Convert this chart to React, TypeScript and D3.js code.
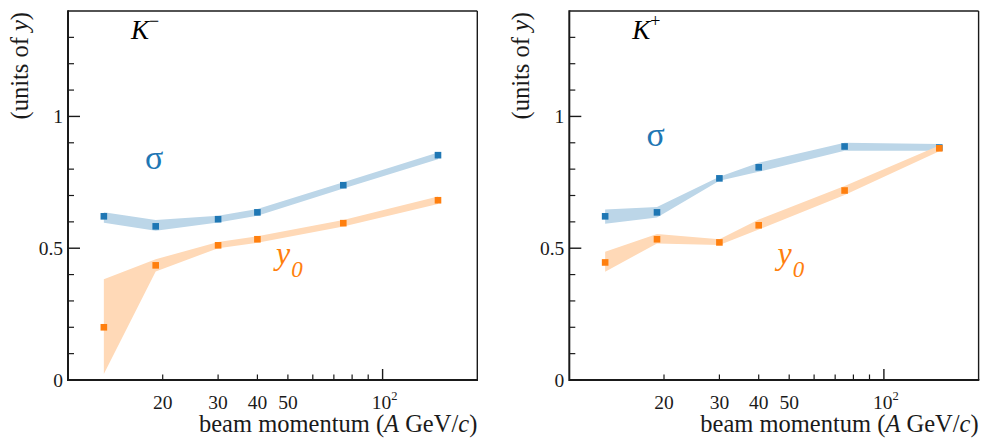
import React from "react";
import * as d3 from "d3";

// beam momenta (A GeV/c)
const momenta = [13, 19, 30, 40, 75, 150];

// K- panel
const kmSigma = [0.621, 0.583, 0.61, 0.636, 0.739, 0.853];
const kmSigmaLo = [0.597, 0.566, 0.598, 0.623, 0.727, 0.838];
const kmSigmaHi = [0.636, 0.607, 0.623, 0.649, 0.75, 0.863];
const kmY0 = [0.2, 0.435, 0.511, 0.534, 0.595, 0.682];
const kmY0Lo = [0.023, 0.412, 0.5, 0.521, 0.582, 0.668];
const kmY0Hi = [0.382, 0.458, 0.524, 0.545, 0.607, 0.696];

// K+ panel
const kpSigma = [0.621, 0.636, 0.765, 0.807, 0.886, 0.882];
const kpSigmaLo = [0.593, 0.617, 0.756, 0.79, 0.87, 0.87];
const kpSigmaHi = [0.647, 0.656, 0.771, 0.824, 0.9, 0.895];
const kpY0 = [0.446, 0.534, 0.522, 0.587, 0.719, 0.879];
const kpY0Lo = [0.411, 0.518, 0.512, 0.571, 0.702, 0.868];
const kpY0Hi = [0.487, 0.554, 0.534, 0.609, 0.736, 0.89];

const yMajorTicks = [0, 0.5, 1];
const yMajorLabels = ["0", "0.5", "1"];
const yMinorTicks = [0.1, 0.2, 0.3, 0.4, 0.6, 0.7, 0.8, 0.9, 1.1, 1.2, 1.3];
const xMinorTicks = [20, 30, 40, 50, 60, 70, 80, 90];
const xLabelTicks = [20, 30, 40, 50];
const xMajorTick = 100;

const BLUE = "#1f77b4";
const ORANGE = "#ff7f0e";
const BLUE_BAND = "#bcd6e8";
const ORANGE_BAND = "#ffd9b7";
const AXIS = "#1a1a1a";
const SERIF = "Liberation Serif, Times New Roman, Tinos, DejaVu Serif, serif";
const fontStyle = { fontFamily: SERIF };

type PanelProps = {
  ox: number;
  charge: string;
  sigma: number[];
  sigmaLo: number[];
  sigmaHi: number[];
  y0: number[];
  y0Lo: number[];
  y0Hi: number[];
  sigmaPos: [number, number];
  y0Pos: [number, number];
};

function Panel(p: PanelProps) {
  const left = p.ox;
  const right = p.ox + 409.3;
  const top = 11;
  const bottom = 380;
  const x = d3.scaleLog().domain([10, 200]).range([left, right]);
  const y = d3.scaleLinear().domain([0, 1.4]).range([bottom, top]);

  const band = (lo: number[], hi: number[]) =>
    d3
      .area<number>()
      .x((_, i) => x(momenta[i]))
      .y0((_, i) => y(lo[i]))
      .y1((_, i) => y(hi[i]))(momenta) || "";

  const ms = 6.6;

  return (
    <g style={fontStyle}>
      <path d={band(p.sigmaLo, p.sigmaHi)} fill={BLUE_BAND} />
      <path d={band(p.y0Lo, p.y0Hi)} fill={ORANGE_BAND} />
      {p.sigma.map((v, i) => (
        <rect key={"s" + i} x={x(momenta[i]) - ms / 2} y={y(v) - ms / 2} width={ms} height={ms} fill={BLUE} />
      ))}
      {p.y0.map((v, i) => (
        <rect key={"y" + i} x={x(momenta[i]) - ms / 2} y={y(v) - ms / 2} width={ms} height={ms} fill={ORANGE} />
      ))}

      {/* frame */}
      <line x1={left} x2={right} y1={top} y2={top} stroke={AXIS} strokeWidth={1.4} />
      <line x1={right} x2={right} y1={top} y2={bottom} stroke={AXIS} strokeWidth={1.4} />
      <line x1={left} x2={left} y1={top - 0.7} y2={bottom + 1} stroke={AXIS} strokeWidth={2} />
      <line x1={left} x2={right + 0.7} y1={bottom} y2={bottom} stroke={AXIS} strokeWidth={2} />

      {/* y ticks */}
      {yMajorTicks.map((t, i) => (
        <g key={"ym" + i}>
          <line x1={left} x2={left + 12} y1={y(t)} y2={y(t)} stroke={AXIS} strokeWidth={1.4} />
          <text x={left - 5} y={y(t) + 6.5} textAnchor="end" style={fontStyle} fontSize={19.5} fill={AXIS}>
            {yMajorLabels[i]}
          </text>
        </g>
      ))}
      {yMinorTicks.map((t, i) => (
        <line key={"yn" + i} x1={left} x2={left + 6} y1={y(t)} y2={y(t)} stroke={AXIS} strokeWidth={1.2} />
      ))}

      {/* x ticks */}
      {xMinorTicks.map((t, i) => (
        <line key={"xn" + i} x1={x(t)} x2={x(t)} y1={bottom} y2={bottom - 5.5} stroke={AXIS} strokeWidth={1.2} />
      ))}
      <line x1={x(xMajorTick)} x2={x(xMajorTick)} y1={bottom} y2={bottom - 11} stroke={AXIS} strokeWidth={1.4} />
      {xLabelTicks.map((t, i) => (
        <text key={"xl" + i} x={x(t)} y={408.5} textAnchor="middle" style={fontStyle} fontSize={19.5} fill={AXIS}>
          {t}
        </text>
      ))}
      <text x={x(xMajorTick) + 2} y={408.5} textAnchor="middle" style={fontStyle} fontSize={19.5} fill={AXIS}>
        10
        <tspan fontSize={12.5} dy={-9}>2</tspan>
      </text>

      {/* axis titles */}
      <text x={right} y={432} textAnchor="end" style={fontStyle} fontSize={24.5} fill={AXIS}>
        beam momentum (<tspan fontStyle="italic">A</tspan> GeV/<tspan fontStyle="italic">c</tspan>)
      </text>
      <text
        transform={`translate(${p.ox - 40},12) rotate(-90)`}
        textAnchor="end"
        style={fontStyle}
        fontSize={24.5}
        fill={AXIS}
      >
        (units of <tspan fontStyle="italic">y</tspan>)
      </text>

      {/* panel label */}
      <text x={left + 63} y={38.5} style={fontStyle} fontSize={27} fill="#000">
        <tspan fontStyle="italic">K</tspan>
        <tspan fontSize={18} dy={-12}>{p.charge}</tspan>
      </text>

      {/* series labels */}
      <text x={p.sigmaPos[0]} y={p.sigmaPos[1]} style={fontStyle} fontSize={34} fill={BLUE}>
        σ
      </text>
      <text x={p.y0Pos[0]} y={p.y0Pos[1]} style={fontStyle} fontSize={32} fontStyle="italic" fill={ORANGE}>
        y<tspan fontSize={23} dx={1} dy={13}>0</tspan>
      </text>
    </g>
  );
}

export default function App() {
  return (
    <svg width={984} height={444} style={{ position: "absolute", left: 0, top: 0, background: "#fff" }}>
      <rect width={984} height={444} fill="#fff" />
      <Panel
        ox={68}
        charge="−"
        sigma={kmSigma}
        sigmaLo={kmSigmaLo}
        sigmaHi={kmSigmaHi}
        y0={kmY0}
        y0Lo={kmY0Lo}
        y0Hi={kmY0Hi}
        sigmaPos={[145, 169]}
        y0Pos={[276, 264]}
      />
      <Panel
        ox={569.3}
        charge="+"
        sigma={kpSigma}
        sigmaLo={kpSigmaLo}
        sigmaHi={kpSigmaHi}
        y0={kpY0}
        y0Lo={kpY0Lo}
        y0Hi={kpY0Hi}
        sigmaPos={[646.5, 146]}
        y0Pos={[777.5, 264]}
      />
    </svg>
  );
}
